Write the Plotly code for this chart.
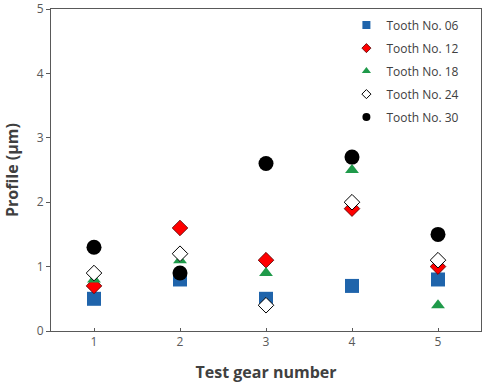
import plotly.graph_objects as go

gears = [1, 2, 3, 4, 5]
tooth06 = [0.5, 0.8, 0.5, 0.7, 0.8]
tooth12 = [0.7, 1.6, 1.1, 1.9, 1.0]
tooth18 = [0.8, 1.1, 0.9, 2.5, 0.4]
tooth24 = [0.9, 1.2, 0.4, 2.0, 1.1]
tooth30 = [1.3, 0.9, 2.6, 2.7, 1.5]
names = ["Tooth No. 06", "Tooth No. 12", "Tooth No. 18", "Tooth No. 24", "Tooth No. 30"]
xticks = [1, 2, 3, 4, 5]
yticks = [0, 1, 2, 3, 4, 5]

styles = [
    dict(symbol="square", size=14, color="#1F64AB", line=dict(width=0)),
    dict(symbol="diamond", size=12, color="#FF0000", line=dict(width=0.8, color="#500000")),
    dict(symbol="triangle-up", size=12, color="#1F9A4A", line=dict(width=0)),
    dict(symbol="diamond", size=12, color="#FFFFFF", line=dict(width=1, color="#000000")),
    dict(symbol="circle", size=15, color="#000000", line=dict(width=0)),
]
legend_sizes = [8, 7, 8, 7, 8]

fig = go.Figure()
for vals, mk, nm in zip([tooth06, tooth12, tooth18, tooth24, tooth30], styles, names):
    fig.add_trace(go.Scatter(x=gears, y=vals, mode="markers", name=nm, marker=mk,
                             showlegend=False))
for mk, nm, ls in zip(styles, names, legend_sizes):
    lm = dict(mk)
    lm["size"] = ls
    fig.add_trace(go.Scatter(x=[None], y=[None], mode="markers", name=nm, marker=lm,
                             legendgroup=nm, showlegend=True))

font_family = "Open Sans, Noto Sans, sans-serif"
fig.update_layout(
    width=485, height=390,
    margin=dict(l=51, r=4, t=9, b=59),
    paper_bgcolor="white", plot_bgcolor="white",
    font=dict(family=font_family, color="#595959", size=12),
    showlegend=True,
    legend=dict(x=0.687, y=0.995, xanchor="left", yanchor="top",
                bgcolor="rgba(0,0,0,0)", font=dict(size=12, color="#404040"),
                tracegroupgap=4, itemwidth=30),
    xaxis=dict(range=[0.5, 5.5], tickvals=xticks, showgrid=False, zeroline=False,
               showline=True, linecolor="#595959", linewidth=1, mirror=True,
               ticks="inside", ticklen=3, tickcolor="#595959", automargin=False,
               title=dict(text="Test gear number", standoff=17,
                          font=dict(size=16, color="#404040", family=font_family, weight="bold"))),
    yaxis=dict(range=[0, 5], tickvals=yticks, showgrid=False, zeroline=False,
               showline=True, linecolor="#595959", linewidth=1, mirror=True,
               ticks="outside", ticklen=4, tickcolor="#595959", automargin=False,
               title=dict(text="Profile (µm)", standoff=14,
                          font=dict(size=16, color="#404040", family=font_family, weight="bold"))),
)

fig.write_html("out.html", config={"displayModeBar": False},
               post_script="document.body.style.margin='0';document.body.style.overflow='hidden';")
